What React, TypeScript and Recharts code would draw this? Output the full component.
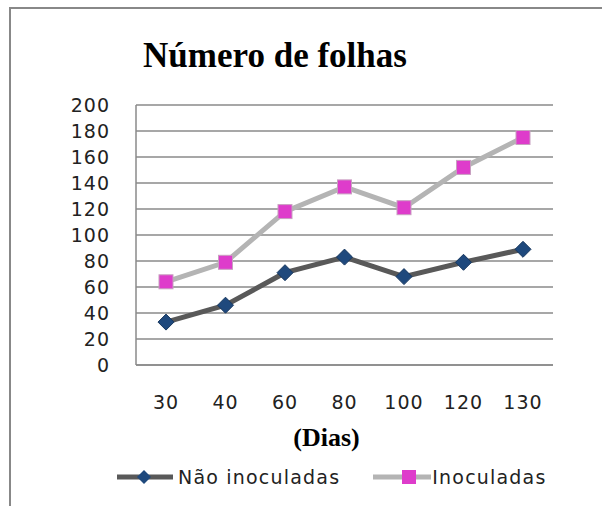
import React from 'react';
import { LineChart, Line, XAxis, YAxis, CartesianGrid, Legend, Label } from 'recharts';

const days = ['30', '40', '60', '80', '100', '120', '130'];
const naoInoculadas = [33, 46, 71, 83, 68, 79, 89];
const inoculadas = [64, 79, 118, 137, 121, 152, 175];
const yTicks = [0, 20, 40, 60, 80, 100, 120, 140, 160, 180, 200];

const data = days.map((d, i) => ({ dia: d, nao: naoInoculadas[i], ino: inoculadas[i] }));

const NAO_LINE = '#595959';
const NAO_MARK = '#1F497D';
const INO_LINE = '#B4B4B4';
const INO_MARK = '#DE3CCB';
const TICK_FONT = 'DejaVu Sans, Verdana, sans-serif';

const Diamond = (props: any) => {
  const { cx, cy, index } = props;
  if (cx == null || cy == null) return <g key={`d${index}`} />;
  const r = 8;
  return (
    <path
      key={`d${index}`}
      d={`M${cx},${cy - r}L${cx + r},${cy}L${cx},${cy + r}L${cx - r},${cy}Z`}
      fill={NAO_MARK}
      stroke="#17375E"
      strokeWidth={1}
    />
  );
};

const Square = (props: any) => {
  const { cx, cy, index } = props;
  if (cx == null || cy == null) return <g key={`s${index}`} />;
  const r = 7;
  return (
    <rect
      key={`s${index}`}
      x={cx - r}
      y={cy - r}
      width={2 * r}
      height={2 * r}
      fill={INO_MARK}
      stroke="#C8A0C0"
      strokeWidth={1}
    />
  );
};

const LegendContent = () => (
  <div style={{ display: 'flex', alignItems: 'center', height: 26, paddingLeft: 117, fontFamily: TICK_FONT, fontSize: 19, letterSpacing: 1.2, color: '#222' }}>
    <svg width={56} height={20}>
      <line x1={0} y1={10} x2={56} y2={10} stroke={NAO_LINE} strokeWidth={5} />
      <path d="M27,3L34,10L27,17L20,10Z" fill={NAO_MARK} />
    </svg>
    <span style={{ marginLeft: 5 }}>Não inoculadas</span>
    <svg width={58} height={20} style={{ marginLeft: 33 }}>
      <line x1={0} y1={10} x2={58} y2={10} stroke={INO_LINE} strokeWidth={5} />
      <rect x={29} y={3} width={14} height={14} fill={INO_MARK} />
    </svg>
    <span style={{ marginLeft: 1 }}>Inoculadas</span>
  </div>
);

export default function App() {
  return (
    <div style={{ position: 'absolute', left: 0, top: 0, width: 602, height: 506, background: '#fff' }}>
      <div style={{ position: 'absolute', left: 9, top: 7, width: 593, height: 499, borderTop: '2px solid #888', borderLeft: '2px solid #888' }} />
      <div style={{ position: 'absolute', left: 0, top: 36, width: 602, textAlign: 'center', paddingRight: 52, boxSizing: 'border-box', fontFamily: 'Liberation Serif, Times New Roman, serif', fontWeight: 'bold', fontSize: 35, lineHeight: '40px', color: '#000' }}>
        Número de folhas
      </div>
      <div style={{ position: 'absolute', left: 0, top: 0 }}>
        <LineChart width={602} height={506} data={data} margin={{ top: 105, right: 49, left: 0, bottom: 16 }}>
          <CartesianGrid vertical={false} stroke="#8a8a8a" strokeWidth={1.5} />
          <XAxis
            dataKey="dia"
            height={99}
            padding={{ left: 30, right: 30 }}
            tickLine={false}
            tickSize={0}
            tickMargin={31}
            axisLine={{ stroke: '#8a8a8a', strokeWidth: 1.5 }}
            tick={{ fill: '#222', fontSize: 19, fontFamily: TICK_FONT, letterSpacing: 1 }}
            interval={0}
          >
            <Label
              content={(p: any) => {
                const vb = p.viewBox || {};
                return (
                  <text
                    x={vb.x + vb.width / 2 - 18}
                    y={vb.y + 81}
                    textAnchor="middle"
                    style={{ fontFamily: 'Liberation Serif, Times New Roman, serif', fontWeight: 'bold', fontSize: 26 }}
                    fill="#000"
                  >
                    (Dias)
                  </text>
                );
              }}
            />
          </XAxis>
          <YAxis
            width={136}
            domain={[0, 200]}
            ticks={yTicks}
            interval={0}
            tickLine={false}
            tickSize={0}
            tickMargin={26}
            axisLine={{ stroke: '#8a8a8a', strokeWidth: 1.5 }}
            tick={{ fill: '#222', fontSize: 19, fontFamily: TICK_FONT, letterSpacing: 1 }}
          />
          <Legend verticalAlign="bottom" content={<LegendContent />} />
          <Line type="linear" dataKey="nao" name="Não inoculadas" stroke={NAO_LINE} strokeWidth={5} dot={Diamond} activeDot={false} isAnimationActive={false} />
          <Line type="linear" dataKey="ino" name="Inoculadas" stroke={INO_LINE} strokeWidth={5} dot={Square} activeDot={false} isAnimationActive={false} />
        </LineChart>
      </div>
    </div>
  );
}
